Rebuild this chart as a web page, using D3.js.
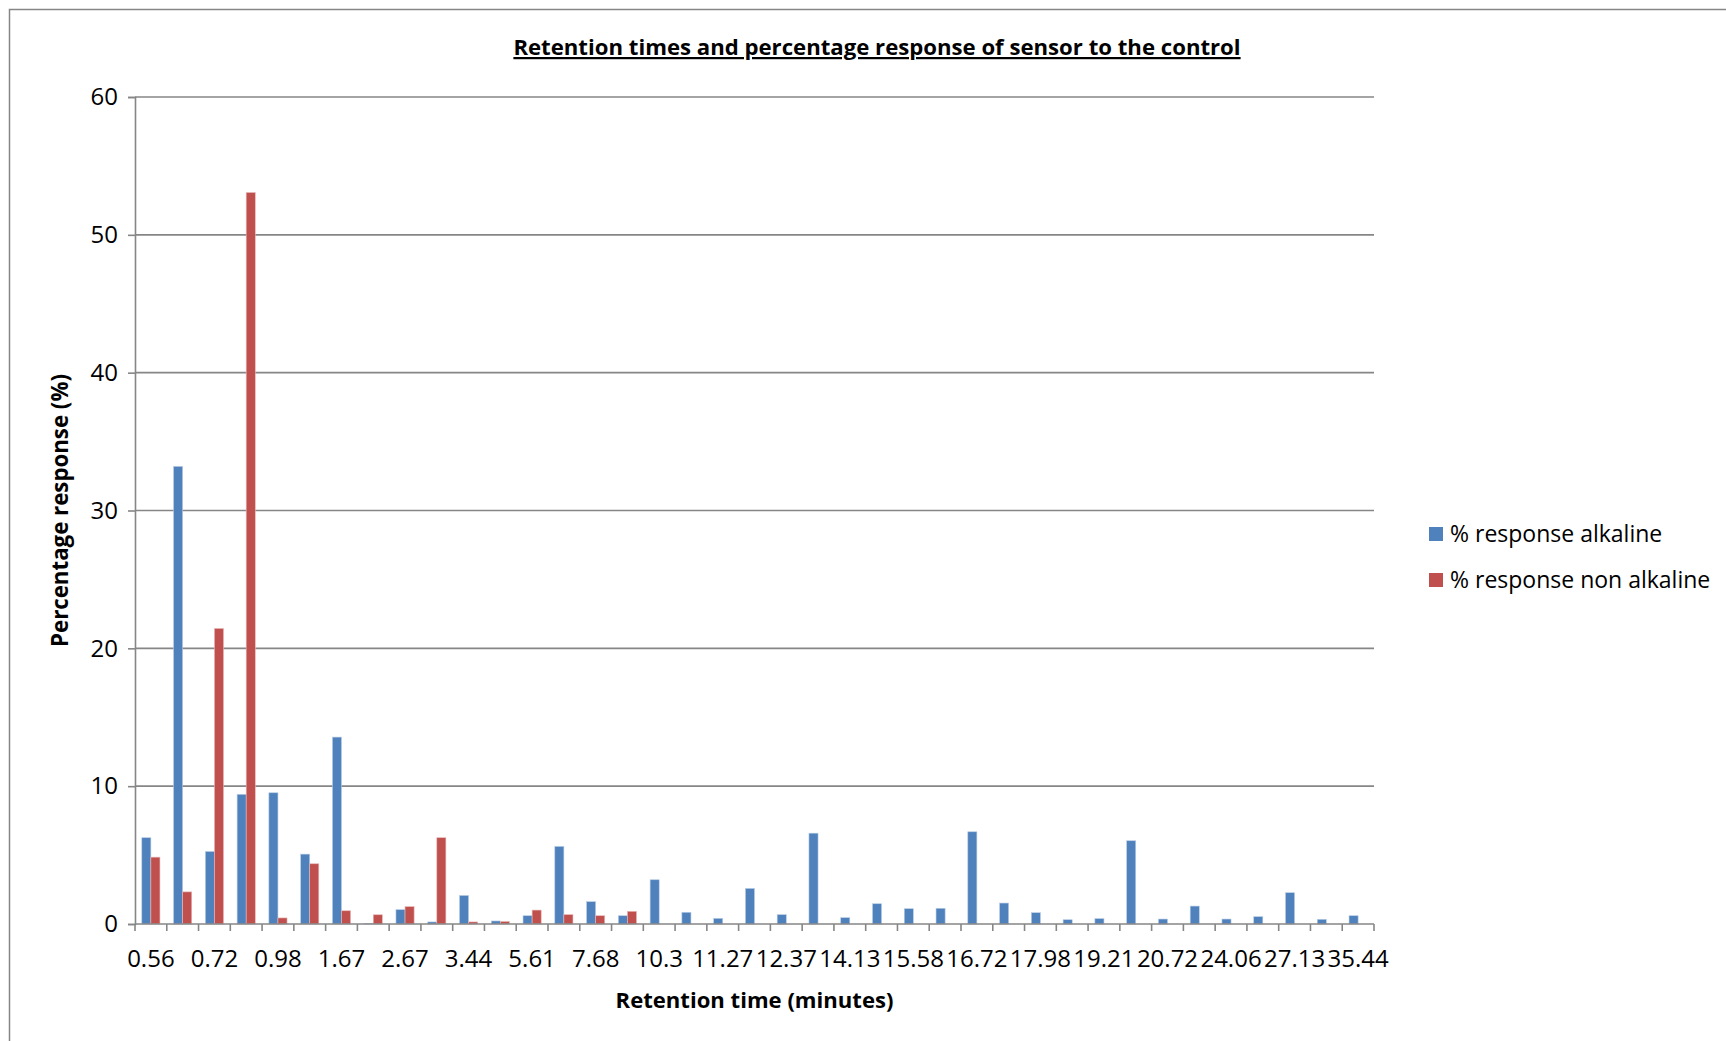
<!DOCTYPE html>
<html>
<head>
<meta charset="utf-8">
<script src="https://cdn.jsdelivr.net/npm/d3@7"></script>
<style>
  html, body { margin: 0; padding: 0; background: #ffffff; }
  svg { display: block; }
  text { font-family: "Open Sans", "Noto Sans", sans-serif; fill: #000; }
</style>
</head>
<body>
<svg id="chart" width="1726" height="1041"></svg>
<script>
// Retention times (minutes); every other one is printed on the axis
const retentionTimes = ["0.56","0.64","0.72","0.85","0.98","1.32","1.67","2.17","2.67","3.05",
  "3.44","4.52","5.61","6.64","7.68","8.99","10.3","10.78","11.27","11.82",
  "12.37","13.25","14.13","14.85","15.58","16.15","16.72","17.35","17.98","18.6",
  "19.21","19.96","20.72","22.39","24.06","25.6","27.13","31.28","35.44"];

// % response, alkaline
const responseAlkaline = [6.26, 33.2, 5.26, 9.41, 9.52, 5.07, 13.56, 0.05, 1.04, 0.15,
  2.07, 0.22, 0.6, 5.63, 1.62, 0.6, 3.21, 0.85, 0.41, 2.58,
  0.68, 6.59, 0.46, 1.47, 1.11, 1.14, 6.69, 1.52, 0.82, 0.31,
  0.39, 6.04, 0.36, 1.3, 0.36, 0.53, 2.27, 0.34, 0.6];

// % response, non alkaline
const responseNonAlkaline = [4.85, 2.33, 21.44, 53.07, 0.44, 4.37, 0.96, 0.67, 1.26, 6.26,
  0.15, 0.18, 1.01, 0.68, 0.6, 0.92, 0, 0, 0, 0,
  0, 0, 0, 0, 0, 0, 0, 0, 0, 0,
  0, 0, 0, 0, 0, 0, 0, 0, 0];

const seriesNames = ["% response alkaline", "% response non alkaline"];
const yTicks = [0, 10, 20, 30, 40, 50, 60];

const chartTitle = "Retention times and percentage response of sensor to the control";
const xTitle = "Retention time (minutes)";
const yTitle = "Percentage response (%)";

const colors = ["#4F81BD", "#C0504D"];
const edgeColors = ["#b9cde5", "#e6b9b8"];
const axisGray = "#868686";

const svg = d3.select("#chart");
const W = 1726, H = 1041;
const plot = { left: 135, right: 1374, top: 97, bottom: 924 };

svg.append("rect").attr("width", W).attr("height", H).attr("fill", "#fff");

// chart-area frame (runs off the right and bottom edges)
svg.append("path")
  .attr("d", `M9.5,${H + 2} V9.5 H${W + 2}`)
  .attr("fill", "none").attr("stroke", axisGray).attr("stroke-width", 1.5);

const x = d3.scaleBand().domain(retentionTimes).range([plot.left, plot.right]).paddingInner(0).paddingOuter(0);
// 150% gap width: each bar is 1 / 3.5 of the category, the gap split on both sides
const x1 = d3.scaleBand().domain([0, 1]).range([0, x.bandwidth()])
  .paddingInner(0).paddingOuter(0.75);
const y = d3.scaleLinear().domain([0, 60]).range([plot.bottom, plot.top]);

// horizontal gridlines
svg.append("g").selectAll("line").data(yTicks.filter(d => d > 0)).join("line")
  .attr("x1", plot.left).attr("x2", plot.right)
  .attr("y1", d => y(d)).attr("y2", d => y(d))
  .attr("stroke", axisGray).attr("stroke-width", 1.6);

// bars
const rows = retentionTimes.map((t, i) => ({ t, v: [responseAlkaline[i], responseNonAlkaline[i]] }));
const groups = svg.append("g").selectAll("g").data(rows).join("g")
  .attr("transform", d => `translate(${x(d.t)},0)`);
groups.selectAll("rect").data(d => d.v.filter(v => v > 0).length ? d.v.map((v, k) => ({ v, k })).filter(e => e.v > 0) : []).join("rect")
  .attr("x", d => x1(d.k))
  .attr("width", x1.bandwidth())
  .attr("y", d => y(d.v))
  .attr("height", d => y(0) - y(d.v))
  .attr("fill", d => colors[d.k])
  .attr("stroke", d => edgeColors[d.k])
  .attr("stroke-width", 0.6);

// y axis
const yAxis = svg.append("g").attr("transform", `translate(${plot.left},0)`)
  .call(d3.axisLeft(y).tickValues(yTicks).tickSize(7).tickPadding(10).tickFormat(d3.format("d")));
yAxis.select(".domain").attr("stroke", axisGray).attr("stroke-width", 1.6);
yAxis.selectAll(".tick line").attr("stroke", axisGray).attr("stroke-width", 1.6);
yAxis.selectAll(".tick text").attr("font-size", 24).attr("font-family", "Open Sans").attr("fill", "#000");

// x axis: baseline, boundary ticks, labels on every other category
const xg = svg.append("g");
xg.append("line").attr("x1", plot.left).attr("x2", plot.right)
  .attr("y1", plot.bottom).attr("y2", plot.bottom)
  .attr("stroke", axisGray).attr("stroke-width", 1.6);
const boundaries = retentionTimes.map(t => x(t)).concat([x.range()[1]]);
xg.selectAll("line.tk").data(boundaries).join("line").attr("class", "tk")
  .attr("x1", d => d).attr("x2", d => d)
  .attr("y1", plot.bottom).attr("y2", plot.bottom + 7)
  .attr("stroke", axisGray).attr("stroke-width", 1.6);
xg.selectAll("text").data(retentionTimes.filter((t, i) => i % 2 === 0)).join("text")
  .attr("x", d => x(d) + x.bandwidth() / 2)
  .attr("y", plot.bottom + 43)
  .attr("text-anchor", "middle")
  .attr("font-size", 24)
  .text(d => d);

// titles, sized to their text box
function fitText(sel, width) {
  const size = parseFloat(sel.attr("font-size"));
  const len = sel.node().getComputedTextLength();
  sel.attr("font-size", size * width / len);
}

const title = svg.append("text")
  .attr("x", 877).attr("y", 55)
  .attr("text-anchor", "middle")
  .attr("font-weight", "bold")
  .attr("font-size", 20)
  .style("text-decoration", "underline")
  .text(chartTitle);
fitText(title, 728);

const xt = svg.append("text")
  .attr("x", (plot.left + plot.right) / 2).attr("y", 1008)
  .attr("text-anchor", "middle").attr("font-weight", "bold").attr("font-size", 22)
  .text(xTitle);
fitText(xt, 278);

const yt = svg.append("text")
  .attr("transform", `translate(68,${(plot.top + plot.bottom) / 2}) rotate(-90)`)
  .attr("text-anchor", "middle").attr("font-weight", "bold").attr("font-size", 22)
  .text(yTitle);
fitText(yt, 273);

// legend
const legend = svg.append("g").attr("transform", "translate(1429,534)");
const li = legend.selectAll("g").data(seriesNames).join("g")
  .attr("transform", (d, i) => `translate(0,${i * 46})`);
li.append("rect").attr("x", 0).attr("y", -7).attr("width", 14).attr("height", 14)
  .attr("fill", (d, i) => colors[i]);
li.append("text").attr("x", 21).attr("y", 0).attr("dy", "0.35em")
  .attr("font-size", 23).text(d => d);
</script>
</body>
</html>
